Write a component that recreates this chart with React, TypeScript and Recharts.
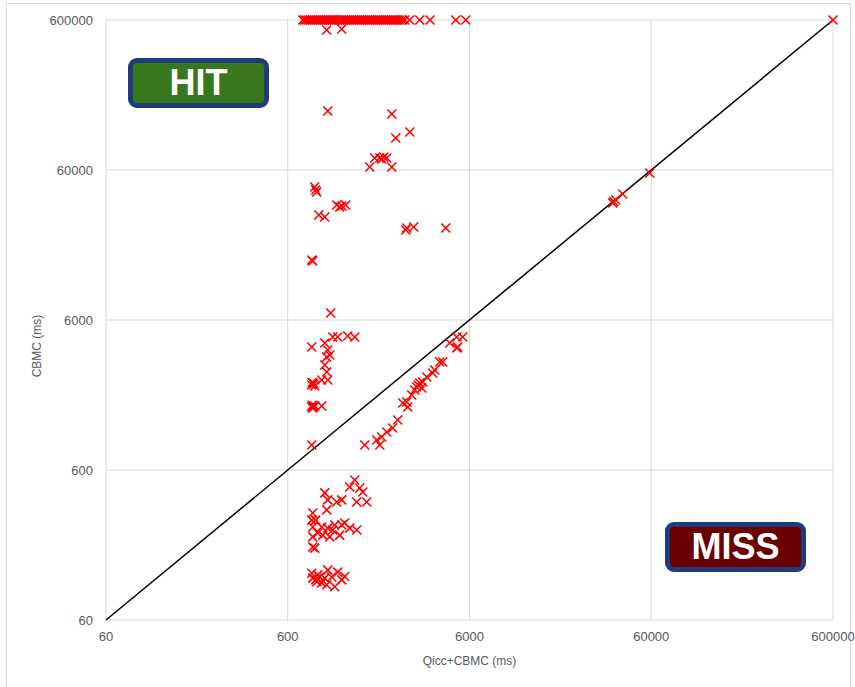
import { CartesianGrid, Label, ReferenceLine, Scatter, ScatterChart, XAxis, YAxis } from 'recharts';

// CBMC timed out (600000 ms) for these runs
const TIMEOUT_MS = 600000;
const topRowQicc = [
  726, 744, 763, 783, 803, 824, 845, 866, 889, 912, 935, 959, 983, 1009, 1035, 1060, 1088, 1120,
  1159, 1189, 1220, 1250, 1283, 1316, 1350, 1385, 1420, 1456, 1494, 1530, 1571, 1610, 1653, 1696,
  1739, 1785, 1830, 1877, 1925, 1974, 2025, 2077, 2130, 2185, 2241, 2298, 2357, 2418, 2480, 2560,
  2642, 2815, 3194, 3639, 5041, 5722,
];

const upperQicc = [983, 1189, 996, 2241, 2815, 2357, 1806, 1925, 1974, 2025, 2103, 1696, 2241, 845, 855, 866, 889, 959, 1116, 1159, 1189, 1251, 2675, 2710, 2960, 4441, 824, 813];
const upperCbmc = [514800, 522900, 148400, 141800, 107500, 98000, 72100, 72100, 71000, 73200, 72100, 62800, 62800, 46200, 44100, 42800, 30060, 29160, 35060, 34000, 34500, 35060, 23890, 24640, 25020, 24640, 14840, 15070];

const midQicc = [1035, 813, 959, 1061, 1130, 1283, 1402, 996, 1022, 983, 959, 983, 996, 824, 845, 813, 923, 813, 824, 845, 923, 813, 835, 818, 830, 818];
const midCbmc = [6680, 3964, 4216, 4622, 4622, 4693, 4622, 3786, 3506, 3400, 3007, 2701, 2389, 2281, 2179, 2212, 2389, 1578, 1554, 1603, 1603, 881, 2250, 2300, 1580, 1620];

const slopeQicc = [1592, 1853, 1974, 2103, 1925, 2269, 2417, 2576, 2710, 2744, 2887, 2999, 3076, 3194, 3319, 3491, 3766, 3863, 4116, 4276, 4672, 5105, 5170, 5105, 5508, 3130, 3277];
const slopeCbmc = [881, 951, 996, 1075, 881, 1143, 1293, 1678, 1704, 1578, 1897, 2049, 2145, 2281, 2317, 2501, 2660, 2785, 3149, 3149, 4216, 3904, 3964, 4622, 4622, 2212, 2112];

const lowQicc = [1402, 1316, 1494, 1552, 1438, 1632, 959, 996, 1116, 1189, 983, 824, 813, 824, 923, 996, 1088, 1189, 1235, 1438, 1159, 1022, 935, 824, 824, 845, 813, 824, 866, 923, 900, 996, 1048, 1130, 1189, 983, 1088, 855, 855, 877, 1061, 1316, 877, 959, 1235];
const lowCbmc = [515, 462, 455, 428, 367, 367, 422, 379, 367, 379, 325, 310, 278, 250, 250, 246, 258, 258, 266, 239, 221, 215, 221, 215, 184, 181, 123, 114, 108, 106, 116, 129, 116, 125, 111, 103, 100, 111, 278, 228, 239, 246, 120, 114, 117];

const diagQicc = [36840, 37300, 38280, 41820, 58860, 600000];
const diagCbmc = [36150, 36900, 37860, 41530, 57300, 600000];

const ticks = [60, 600, 6000, 60000, 600000];

const zip = (xs: number[], ys: number[]) => xs.map((x, i) => ({ x, y: ys[i] }));

const points = [
  ...topRowQicc.map((x) => ({ x, y: TIMEOUT_MS })),
  ...zip(upperQicc, upperCbmc),
  ...zip(midQicc, midCbmc),
  ...zip(slopeQicc, slopeCbmc),
  ...zip(lowQicc, lowCbmc),
  ...zip(diagQicc, diagCbmc),
];

const Cross = (props: any) => {
  const { cx, cy } = props;
  const s = 4.5;
  return (
    <path
      d={`M${cx - s},${cy - s}L${cx + s},${cy + s}M${cx - s},${cy + s}L${cx + s},${cy - s}`}
      stroke="#ff0000"
      strokeWidth={1.6}
      fill="none"
    />
  );
};

const tickStyle = { fill: '#595959', fontSize: 13 };

const badge = (left: number, top: number, bg: string, text: string) => (
  <div
    style={{
      position: 'absolute',
      left,
      top,
      width: 141,
      height: 50,
      boxSizing: 'border-box',
      border: '5px solid #1f3b7a',
      borderRadius: 9,
      background: bg,
      color: '#fff',
      fontWeight: 'bold',
      fontSize: 36,
      lineHeight: '40px',
      textAlign: 'center',
    }}
  >
    {text}
  </div>
);

export default function App() {
  return (
    <div
      style={{
        position: 'absolute',
        left: 0,
        top: 0,
        width: 855,
        height: 687,
        overflow: 'hidden',
        background: '#fff',
        fontFamily: '"Liberation Sans", Arial, sans-serif',
      }}
    >
      <div
        style={{
          position: 'absolute',
          left: 6,
          top: 3,
          width: 843,
          height: 700,
          border: '1px solid #d9d9d9',
        }}
      />
      <ScatterChart width={855} height={687} margin={{ top: 20, right: 22, bottom: 27, left: 0 }}>
        <CartesianGrid stroke="#d9d9d9" />
        <XAxis
          type="number"
          dataKey="x"
          scale="log"
          domain={[60, 600000]}
          ticks={ticks}
          axisLine={false}
          tickLine={false}
          tickSize={0}
          tickMargin={12}
          height={40}
          tick={tickStyle}
        >
          <Label
            value="Qicc+CBMC (ms)"
            position="insideBottom"
            offset={-5}
            style={{ fill: '#595959', fontSize: 12 }}
          />
        </XAxis>
        <YAxis
          type="number"
          dataKey="y"
          scale="log"
          domain={[60, 600000]}
          ticks={ticks}
          axisLine={false}
          tickLine={false}
          tickSize={0}
          tickMargin={13}
          width={106}
          tick={tickStyle}
        >
          <Label
            value="CBMC (ms)"
            angle={-90}
            position="insideLeft"
            offset={37}
            dy={26}
            style={{ fill: '#595959', fontSize: 12, textAnchor: 'middle' }}
          />
        </YAxis>
        <Scatter data={points} shape={<Cross />} isAnimationActive={false} />
        <ReferenceLine
          segment={[
            { x: 60, y: 60 },
            { x: 600000, y: 600000 },
          ]}
          stroke="#000"
          strokeWidth={1.5}
        />
      </ScatterChart>
      {badge(128, 58, '#38771e', 'HIT')}
      {badge(665, 522, '#6a0000', 'MISS')}
    </div>
  );
}
